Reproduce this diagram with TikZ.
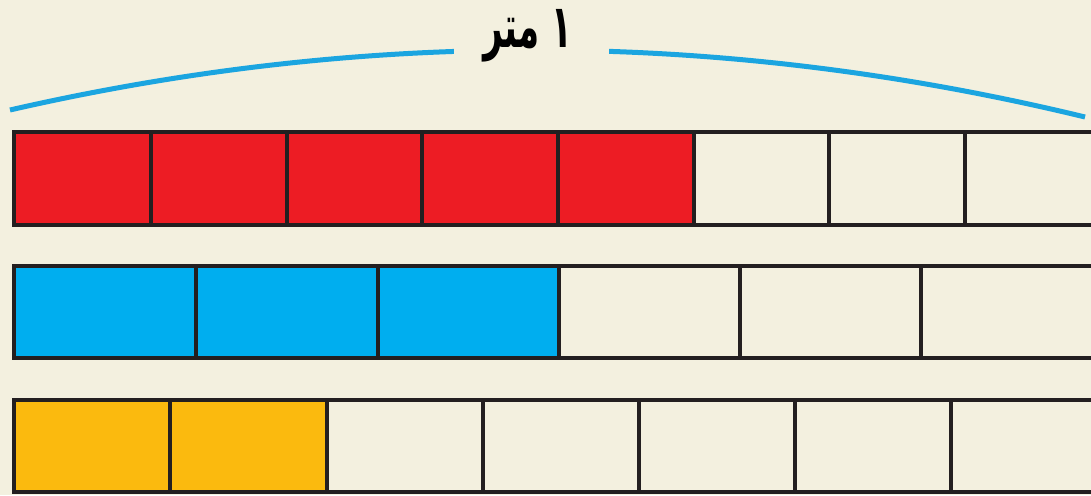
\documentclass[tikz,border=0pt]{standalone}
\usepackage{fontspec}
\TeXXeTstate=1
\newfontfamily\arabicfont[Script=Arabic]{DejaVu Sans}
\definecolor{bg}{HTML}{F3F0DF}
\definecolor{cred}{HTML}{ED1C24}
\definecolor{cblue}{HTML}{00AEEF}
\definecolor{cyel}{HTML}{FBBA0E}
\definecolor{carc}{HTML}{1BA5E0}
\definecolor{cline}{HTML}{231F20}
\tikzset{
  cell/.style={draw=cline, line width=3.6pt},
  arcline/.style={draw=carc, line width=5pt},
  lbl/.style={font=\arabicfont\bfseries\fontsize{40}{40}\selectfont, text=black, inner sep=0pt}
}
\begin{document}
\begin{tikzpicture}[x=1pt,y=-1pt]
\useasboundingbox (0,0) rectangle (1091,495);
\clip (0,0) rectangle (1091,495);
\fill[bg] (0,0) rectangle (1091,495);
% arc
\draw[arcline] (10,110) .. controls (368,28) and (726,30) .. (1085,117);
\fill[bg] (454,20) rectangle (609,75);
\node[lbl] (title) at (528,36) {\scalebox{0.85}[1.5]{\beginR ١ متر\endR}};
% row 1: eighths
\foreach \a/\b/\c in {14/151/cred,151/287/cred,287/422/cred,422/558/cred,558/694/cred,694/829/bg,829/965/bg,965/1101/bg}
  \filldraw[cell, fill=\c] (\a,132) rectangle (\b,225);
% row 2: sixths
\foreach \a/\b/\c in {14/196/cblue,196/378/cblue,378/559/cblue,559/740/bg,740/921/bg,921/1102/bg}
  \filldraw[cell, fill=\c] (\a,266) rectangle (\b,358);
% row 3: sevenths
\foreach \a/\b/\c in {14/170/cyel,170/327/cyel,327/483/bg,483/639/bg,639/795/bg,795/951/bg,951/1107/bg}
  \filldraw[cell, fill=\c] (\a,400) rectangle (\b,492);
\end{tikzpicture}
\end{document}
